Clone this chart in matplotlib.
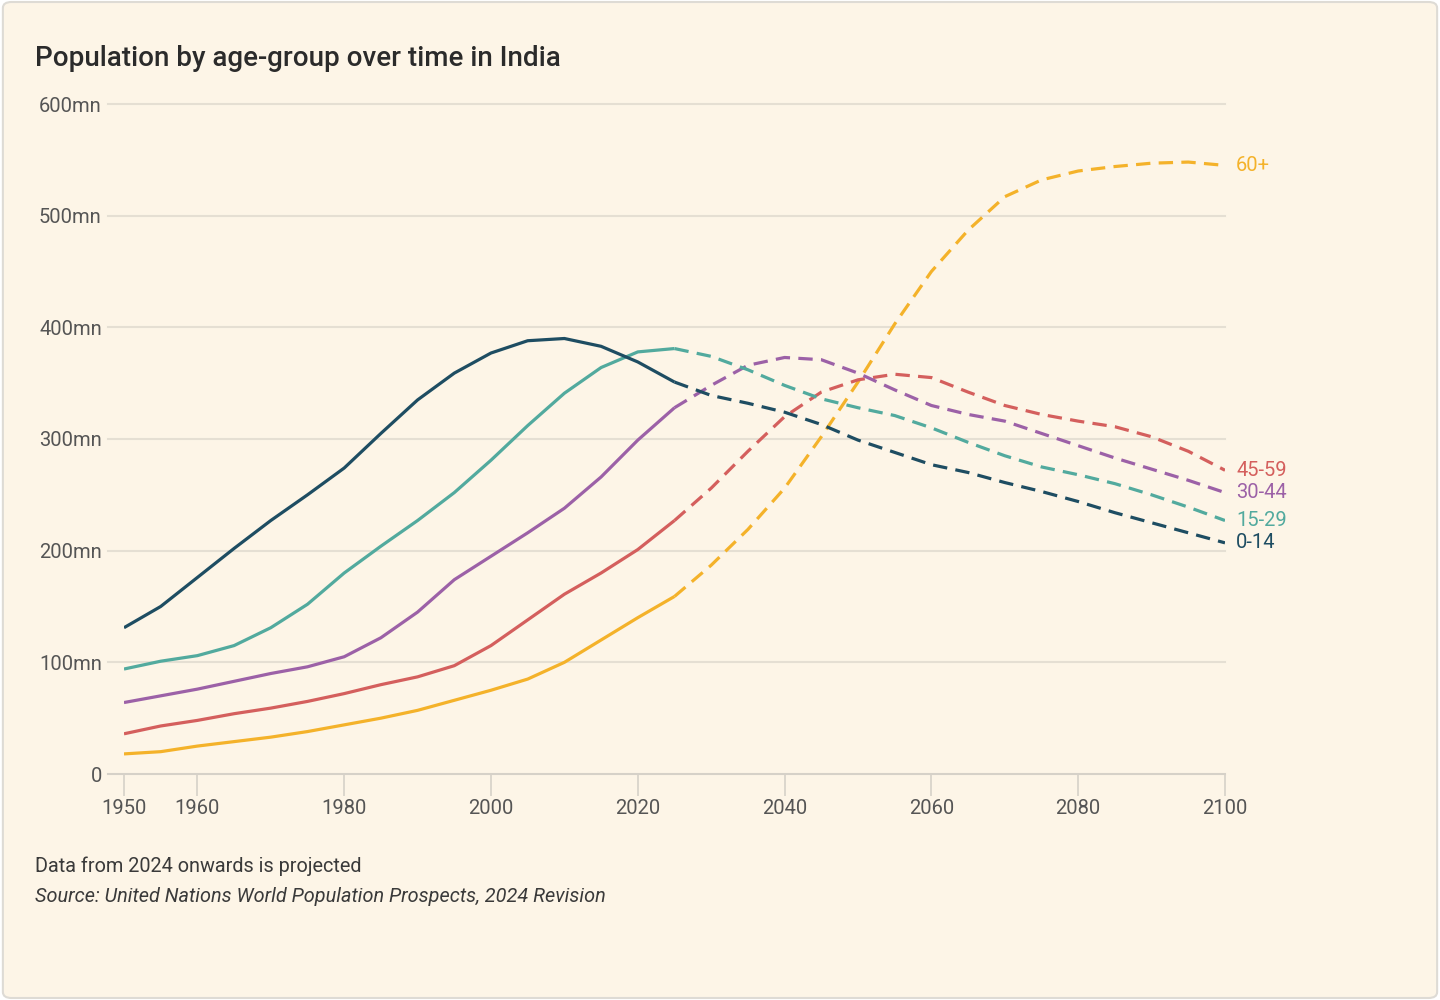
import matplotlib
matplotlib.use("Agg")
from matplotlib import pyplot as plt
from matplotlib.patches import FancyBboxPatch

years = list(range(1950, 2101, 5))

# population in millions at 5-year steps
age_0_14 = [131, 150, 176, 202, 227, 250, 274, 305, 335, 359, 377, 388, 390, 383, 369, 351,
            339, 332, 324, 313, 299, 288, 277, 270, 261, 253, 244, 234, 225, 216, 207]
age_15_29 = [94, 101, 106, 115, 131, 152, 180, 204, 227, 252, 281, 312, 341, 364, 378, 381,
             374, 362, 348, 336, 328, 321, 310, 297, 285, 275, 268, 260, 250, 239, 227]
age_30_44 = [64, 70, 76, 83, 90, 96, 105, 122, 145, 174, 195, 216, 238, 266, 299, 328,
             348, 366, 373, 371, 359, 344, 330, 322, 316, 305, 294, 283, 273, 263, 252]
age_45_59 = [36, 43, 48, 54, 59, 65, 72, 80, 87, 97, 115, 138, 161, 180, 201, 227,
             256, 289, 320, 342, 353, 358, 355, 342, 330, 322, 316, 311, 302, 289, 272]
age_60_plus = [18, 20, 25, 29, 33, 38, 44, 50, 57, 66, 75, 85, 100, 120, 140, 159,
               187, 219, 256, 302, 351, 403, 450, 487, 517, 532, 540, 544, 547, 548, 545]

series = [
    ("60+", age_60_plus, "#f4b22a"),
    ("45-59", age_45_59, "#d45f5d"),
    ("30-44", age_30_44, "#9c61a7"),
    ("15-29", age_15_29, "#52aa9e"),
    ("0-14", age_0_14, "#1e4d62"),
]

projection_start = 2025
y_ticks = [0, 100, 200, 300, 400, 500, 600]
y_tick_labels = ["0", "100mn", "200mn", "300mn", "400mn", "500mn", "600mn"]
x_ticks = [1950, 1960, 1980, 2000, 2020, 2040, 2060, 2080, 2100]

bg = "#fdf5e7"
plt.rcParams["font.family"] = ["Roboto", "DejaVu Sans"]

fig = plt.figure(figsize=(14.4, 10), dpi=100)
fig.patch.set_facecolor("white")
fig.patches.append(FancyBboxPatch((0.002, 0.002), 0.996, 0.996, boxstyle="round,pad=0,rounding_size=0.006",
                                  transform=fig.transFigure, facecolor=bg, edgecolor="#dedbd5",
                                  linewidth=1.5, zorder=-10))

ax = fig.add_axes([0.0861, 0.226, 0.7646, 0.670])
ax.set_facecolor("none")

split = years.index(projection_start)
for name, vals, color in series:
    ax.plot(years[:split + 1], vals[:split + 1], color=color, lw=2.3, solid_capstyle="butt",
            solid_joinstyle="round", zorder=3)
    ax.plot(years[split:], vals[split:], color=color, lw=2.3, dashes=(4.5, 2.6),
            dash_capstyle="butt", dash_joinstyle="round", zorder=3)
    ax.text(years[-1] + 1.5, vals[-1], name, color=color, fontsize=14.5,
            va="center", ha="left", clip_on=False)

for yv in y_ticks[1:]:
    ax.axhline(yv, xmin=-0.0145, xmax=1, color="#e5dfd3", lw=1.5, zorder=1, clip_on=False)
ax.axhline(0, xmin=-0.0145, xmax=1, color="#d6d1c8", lw=1.5, zorder=1, clip_on=False)

ax.set_xlim(1950, 2100)
ax.set_ylim(0, 600)
ax.set_yticks(y_ticks)
ax.set_yticklabels(y_tick_labels)
ax.set_xticks(x_ticks)
for s in ax.spines.values():
    s.set_visible(False)
ax.tick_params(axis="y", length=0, pad=16, labelsize=14.5, labelcolor="#555555")
ax.tick_params(axis="x", length=16, width=1.2, color="#d6d1c8", pad=2, labelsize=14.5,
               labelcolor="#555555")

fig.text(0.024, 0.941, "Population by age-group over time in India", fontsize=20,
         fontweight="medium", color="#2b2b2b", va="center")
fig.text(0.024, 0.134, "Data from 2024 onwards is projected", fontsize=14.3, color="#3a3a3a",
         va="center")
fig.text(0.024, 0.103, "Source: United Nations World Population Prospects, 2024 Revision",
         fontsize=14.3, color="#3a3a3a", style="italic", va="center")

fig.savefig("out.png", dpi=100, facecolor=fig.get_facecolor())
